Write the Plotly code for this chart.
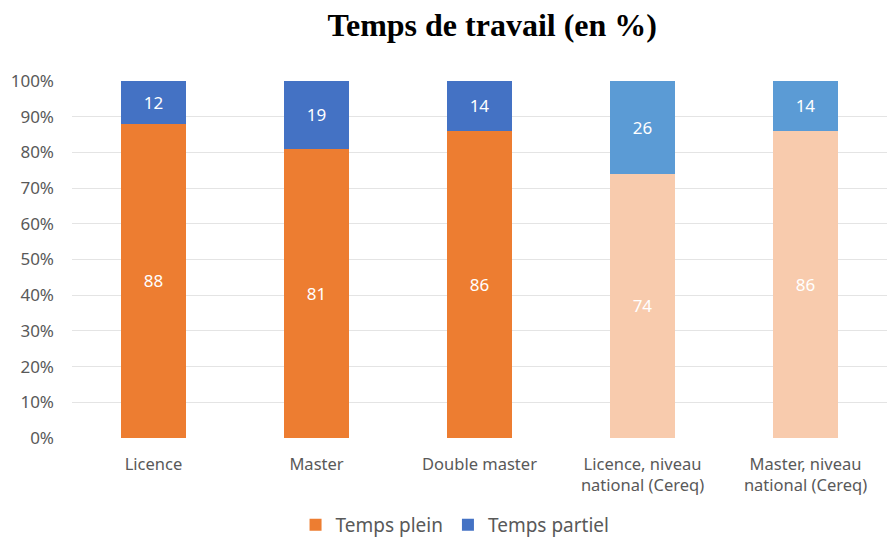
import plotly.graph_objects as go

# Categories and values (in %)
categories = ['Licence', 'Master', 'Double master',
              'Licence, niveau<br>national (Cereq)', 'Master, niveau<br>national (Cereq)']
temps_plein = [88, 81, 86, 74, 86]
temps_partiel = [12, 19, 14, 26, 14]

# national rows are drawn in lighter shades
plein_colors = ['#ED7D31', '#ED7D31', '#ED7D31', '#F8CBAD', '#F8CBAD']
partiel_colors = ['#4472C4', '#4472C4', '#4472C4', '#5B9BD5', '#5B9BD5']

fig = go.Figure()
fig.add_trace(go.Bar(x=categories, y=temps_plein, name='Temps plein',
                     marker=dict(color=plein_colors, line=dict(width=0)),
                     text=temps_plein, textposition='inside', insidetextanchor='middle',
                     textfont=dict(color='white', size=17)))
fig.add_trace(go.Bar(x=categories, y=temps_partiel, name='Temps partiel',
                     marker=dict(color=partiel_colors, line=dict(width=0)),
                     text=temps_partiel, textposition='inside', insidetextanchor='middle',
                     textfont=dict(color='white', size=17)))

fig.update_layout(
    barmode='stack',
    bargap=0.6,
    width=887, height=544,
    margin=dict(l=72, r=0, t=81, b=105),
    plot_bgcolor='white', paper_bgcolor='white',
    font=dict(family='Noto Sans', size=16, color='#595959'),
    title=dict(text='<b>Temps de travail (en %)</b>', x=0.555, xanchor='center',
               y=0.955, yanchor='middle',
               font=dict(family='Liberation Serif', size=32, color='black')),
    yaxis=dict(range=[0, 100], dtick=10, ticksuffix='%', showgrid=True, automargin=False,
               gridcolor='#E4E4E4', zeroline=False, tickfont=dict(size=17), ticklabelstandoff=17),
    xaxis=dict(tickfont=dict(size=16.5), automargin=False, ticklabelstandoff=14),
    legend=dict(orientation='h', x=0.47, xanchor='center', y=-0.19, yanchor='top',
                font=dict(size=19), traceorder='normal'),
)

# no page margin so the figure sits at the window corner
fig.write_html('out.html', config={'displayModeBar': False},
               post_script="document.body.style.margin='0';")
